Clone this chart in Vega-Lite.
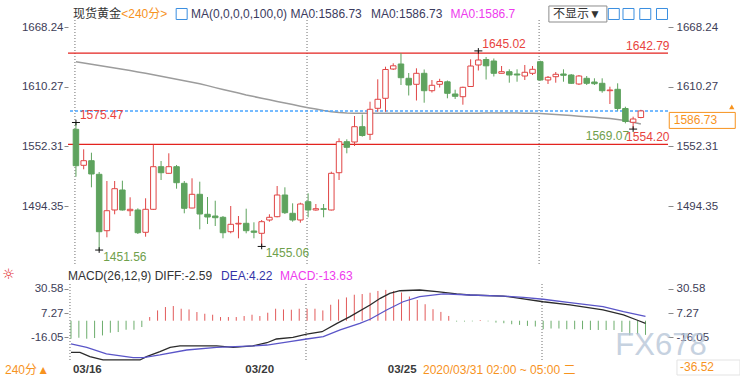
{
"$schema":"https://vega.github.io/schema/vega-lite/v6.json",
"autosize":{"type":"none"},
"padding":{"left":68,"top":20,"right":672,"bottom":362},
"background":"white",
"spacing":18,
"bounds":"flush",
"resolve":{"scale":{"x":"independent","y":"independent"}},
"config":{"view":{"stroke":null},"font":"Liberation Sans"},
"datasets":{
"candles":[
{"i":0,"o":1568.86,"h":1575.47,"l":1522.82,"c":1533.5,"ma":1634.53},
{"i":1,"o":1533.89,"h":1549.43,"l":1530.0,"c":1538.36,"ma":1633.27},
{"i":2,"o":1538.36,"h":1546.13,"l":1512.52,"c":1525.45,"ma":1632.01},
{"i":3,"o":1525.15,"h":1527.39,"l":1451.56,"c":1469.38,"ma":1630.74},
{"i":4,"o":1470.36,"h":1518.64,"l":1463.95,"c":1489.78,"ma":1629.58},
{"i":5,"o":1490.47,"h":1518.64,"l":1486.3,"c":1511.16,"ma":1628.41},
{"i":6,"o":1509.9,"h":1518.93,"l":1489.9,"c":1490.47,"ma":1627.15},
{"i":7,"o":1489.78,"h":1502.81,"l":1484.64,"c":1491.14,"ma":1625.89},
{"i":8,"o":1490.47,"h":1492.12,"l":1467.15,"c":1468.41,"ma":1624.62},
{"i":9,"o":1468.8,"h":1501.84,"l":1464.53,"c":1491.14,"ma":1623.36},
{"i":10,"o":1491.14,"h":1554.0,"l":1490.47,"c":1532.53,"ma":1621.9},
{"i":11,"o":1532.53,"h":1538.07,"l":1519.61,"c":1526.7,"ma":1620.44},
{"i":12,"o":1526.11,"h":1545.54,"l":1525.8,"c":1532.53,"ma":1618.99},
{"i":13,"o":1532.53,"h":1534.19,"l":1511.16,"c":1517.0,"ma":1617.53},
{"i":14,"o":1516.4,"h":1518.64,"l":1487.26,"c":1492.12,"ma":1616.07},
{"i":15,"o":1492.41,"h":1521.26,"l":1492.12,"c":1505.72,"ma":1614.62},
{"i":16,"o":1505.72,"h":1517.96,"l":1471.72,"c":1486.58,"ma":1613.06},
{"i":17,"o":1486.3,"h":1503.1,"l":1476.87,"c":1483.66,"ma":1611.31},
{"i":18,"o":1484.64,"h":1499.5,"l":1474.92,"c":1482.99,"ma":1609.37},
{"i":19,"o":1483.38,"h":1484.64,"l":1462.98,"c":1468.41,"ma":1607.53},
{"i":20,"o":1469.38,"h":1494.35,"l":1467.83,"c":1476.57,"ma":1605.78},
{"i":21,"o":1476.87,"h":1484.64,"l":1462.98,"c":1477.55,"ma":1604.03},
{"i":22,"o":1477.55,"h":1491.73,"l":1467.83,"c":1470.36,"ma":1602.18},
{"i":23,"o":1470.07,"h":1478.52,"l":1462.98,"c":1468.8,"ma":1600.63},
{"i":24,"o":1467.83,"h":1480.75,"l":1455.06,"c":1479.11,"ma":1599.07},
{"i":25,"o":1480.75,"h":1486.3,"l":1479.11,"c":1483.38,"ma":1597.52},
{"i":26,"o":1483.96,"h":1513.78,"l":1483.38,"c":1505.04,"ma":1595.97},
{"i":27,"o":1505.04,"h":1512.52,"l":1486.58,"c":1487.85,"ma":1594.41},
{"i":28,"o":1487.26,"h":1496.97,"l":1479.11,"c":1480.75,"ma":1592.86},
{"i":29,"o":1480.75,"h":1497.56,"l":1478.13,"c":1496.29,"ma":1591.3},
{"i":30,"o":1498.53,"h":1506.69,"l":1483.38,"c":1490.47,"ma":1589.85},
{"i":31,"o":1490.47,"h":1496.29,"l":1489.78,"c":1491.73,"ma":1588.49},
{"i":32,"o":1491.73,"h":1496.29,"l":1483.38,"c":1491.14,"ma":1587.13},
{"i":33,"o":1490.47,"h":1527.67,"l":1490.0,"c":1526.11,"ma":1585.96},
{"i":34,"o":1526.7,"h":1560.12,"l":1519.61,"c":1556.82,"ma":1585.09},
{"i":35,"o":1556.82,"h":1559.15,"l":1545.54,"c":1551.38,"ma":1584.6},
{"i":36,"o":1556.53,"h":1581.78,"l":1552.64,"c":1571.39,"ma":1584.45},
{"i":37,"o":1571.39,"h":1583.24,"l":1561.68,"c":1562.84,"ma":1584.4},
{"i":38,"o":1563.99,"h":1595.67,"l":1558.47,"c":1588.29,"ma":1584.4},
{"i":39,"o":1589.26,"h":1617.43,"l":1585.96,"c":1598.01,"ma":1584.4},
{"i":40,"o":1598.98,"h":1629.68,"l":1585.96,"c":1626.96,"ma":1584.4},
{"i":41,"o":1627.44,"h":1632.98,"l":1626.47,"c":1630.55,"ma":1584.4},
{"i":42,"o":1632.3,"h":1642.69,"l":1611.9,"c":1618.99,"ma":1584.4},
{"i":43,"o":1618.4,"h":1623.56,"l":1601.7,"c":1611.9,"ma":1584.4},
{"i":44,"o":1612.58,"h":1628.12,"l":1596.84,"c":1623.26,"ma":1584.4},
{"i":45,"o":1623.26,"h":1626.96,"l":1594.7,"c":1606.36,"ma":1584.4},
{"i":46,"o":1606.36,"h":1616.75,"l":1604.61,"c":1611.61,"ma":1584.4},
{"i":47,"o":1612.58,"h":1617.92,"l":1609.47,"c":1615.3,"ma":1584.4},
{"i":48,"o":1615.01,"h":1616.27,"l":1598.98,"c":1603.83,"ma":1584.4},
{"i":49,"o":1603.16,"h":1607.33,"l":1598.3,"c":1600.92,"ma":1584.4},
{"i":50,"o":1600.53,"h":1610.25,"l":1592.76,"c":1609.66,"ma":1584.4},
{"i":51,"o":1610.44,"h":1636.86,"l":1609.95,"c":1630.35,"ma":1584.45},
{"i":52,"o":1631.33,"h":1645.02,"l":1625.98,"c":1636.19,"ma":1584.5},
{"i":53,"o":1636.67,"h":1639.1,"l":1617.24,"c":1630.55,"ma":1584.6},
{"i":54,"o":1635.21,"h":1637.64,"l":1620.16,"c":1623.26,"ma":1584.7},
{"i":55,"o":1623.26,"h":1630.35,"l":1623.07,"c":1624.82,"ma":1584.75},
{"i":56,"o":1624.82,"h":1627.15,"l":1614.13,"c":1621.61,"ma":1584.7},
{"i":57,"o":1622.59,"h":1627.15,"l":1615.1,"c":1621.61,"ma":1584.6},
{"i":58,"o":1620.64,"h":1631.33,"l":1616.75,"c":1624.24,"ma":1584.5},
{"i":59,"o":1623.26,"h":1630.35,"l":1621.61,"c":1627.15,"ma":1584.35},
{"i":60,"o":1634.53,"h":1635.5,"l":1616.07,"c":1616.75,"ma":1584.12},
{"i":61,"o":1616.75,"h":1620.64,"l":1612.87,"c":1619.38,"ma":1583.63},
{"i":62,"o":1619.96,"h":1624.53,"l":1614.13,"c":1622.29,"ma":1583.15},
{"i":63,"o":1622.59,"h":1627.15,"l":1615.1,"c":1621.32,"ma":1582.66},
{"i":64,"o":1621.61,"h":1622.59,"l":1612.87,"c":1613.55,"ma":1582.18},
{"i":65,"o":1612.87,"h":1621.61,"l":1611.9,"c":1620.64,"ma":1581.6},
{"i":66,"o":1618.4,"h":1620.64,"l":1611.9,"c":1613.55,"ma":1581.11},
{"i":67,"o":1614.81,"h":1618.4,"l":1611.9,"c":1613.16,"ma":1580.53},
{"i":68,"o":1613.55,"h":1618.4,"l":1604.42,"c":1606.36,"ma":1579.95},
{"i":69,"o":1606.36,"h":1610.25,"l":1593.44,"c":1607.04,"ma":1579.26},
{"i":70,"o":1607.72,"h":1613.55,"l":1586.93,"c":1589.07,"ma":1578.48},
{"i":71,"o":1589.07,"h":1590.82,"l":1574.66,"c":1576.47,"ma":1577.32},
{"i":72,"o":1575.66,"h":1581.1,"l":1569.07,"c":1578.87,"ma":1575.76},
{"i":73,"o":1580.33,"h":1587.8,"l":1579.55,"c":1586.73,"ma":1574.0}
],
"macd":[
{"i":0,"m":-17.34},{"i":1,"m":-16.38},{"i":2,"m":-17.34},{"i":3,"m":-16.67},{"i":4,"m":-14.16},{"i":5,"m":-11.56},{"i":6,"m":-10.89},{"i":7,"m":-8.67},{"i":8,"m":-8.67},{"i":9,"m":-6.07},
{"i":10,"m":3.56},{"i":11,"m":9.92},{"i":12,"m":13.2},{"i":13,"m":14.16},{"i":14,"m":11.56},{"i":15,"m":10.89},{"i":16,"m":8.38},{"i":17,"m":6.74},{"i":18,"m":5.78},{"i":19,"m":3.56},
{"i":20,"m":3.56},{"i":21,"m":3.56},{"i":22,"m":4.53},{"i":23,"m":5.78},{"i":24,"m":4.53},{"i":25,"m":7.71},{"i":26,"m":11.56},{"i":27,"m":10.89},{"i":28,"m":10.6},{"i":29,"m":11.56},
{"i":30,"m":11.56},{"i":31,"m":11.56},{"i":32,"m":9.92},{"i":33,"m":15.41},{"i":34,"m":20.52},{"i":35,"m":22.45},{"i":36,"m":25.05},{"i":37,"m":25.72},{"i":38,"m":26.97},{"i":39,"m":28.7},
{"i":40,"m":29.7},{"i":41,"m":28.7},{"i":42,"m":27.2},{"i":43,"m":23.3},{"i":44,"m":20.0},{"i":45,"m":15.9},{"i":46,"m":11.1},{"i":47,"m":8.5},{"i":48,"m":4.6},{"i":49,"m":-0.8},
{"i":50,"m":-0.8},{"i":51,"m":-0.6},{"i":52,"m":0.7},{"i":53,"m":-0.6},{"i":54,"m":-1.8},{"i":55,"m":-2.4},{"i":56,"m":-3.4},{"i":57,"m":-4.0},{"i":58,"m":-5.0},{"i":59,"m":-5.6},
{"i":60,"m":-8.2},{"i":61,"m":-7.5},{"i":62,"m":-7.5},{"i":63,"m":-8.2},{"i":64,"m":-8.2},{"i":65,"m":-8.2},{"i":66,"m":-8.9},{"i":67,"m":-8.9},{"i":68,"m":-8.9},{"i":69,"m":-8.9},
{"i":70,"m":-10.8},{"i":71,"m":-14.0},{"i":72,"m":-13.0},{"i":73,"m":-13.63}
],
"diff":[
{"i":0,"v":-30.4},{"i":1.14,"v":-30.4},{"i":2.4,"v":-34.6},{"i":4.07,"v":-37.8},{"i":8.77,"v":-37.8},{"i":9.6,"v":-34.6},{"i":11.3,"v":-29.8},{"i":12.6,"v":-25.6},{"i":13.85,"v":-24.3},{"i":18.5,"v":-24.3},{"i":20.6,"v":-25.6},{"i":23.1,"v":-24.3},{"i":24.9,"v":-21.2},{"i":26.1,"v":-17.6},{"i":28.2,"v":-16.0},{"i":29.95,"v":-12.8},{"i":31.9,"v":-10.6},{"i":33.8,"v":-2.5},{"i":35.45,"v":3.9},{"i":38,"v":15.2},{"i":39.3,"v":21.6},{"i":40.5,"v":26.4},{"i":41.8,"v":28.9},{"i":44.3,"v":29.6},{"i":46.5,"v":28.0},{"i":49,"v":25.8},{"i":50.7,"v":24.8},{"i":54.9,"v":23.8},{"i":57.05,"v":21.6},{"i":60,"v":18.3},{"i":63.4,"v":15.2},{"i":67.6,"v":10.4},{"i":70.2,"v":5.6},{"i":71.9,"v":0.7},{"i":73,"v":-2.59}
],
"dea":[
{"i":0,"v":-22.4},{"i":2,"v":-25.6},{"i":4.5,"v":-32.0},{"i":7.9,"v":-35.6},{"i":9.2,"v":-35.6},{"i":11.3,"v":-33.0},{"i":14.7,"v":-28.2},{"i":18.5,"v":-25.6},{"i":23.2,"v":-24.3},{"i":24.9,"v":-23.4},{"i":27.8,"v":-20.2},{"i":29.95,"v":-17.6},{"i":32.06,"v":-15.4},{"i":34.2,"v":-8.9},{"i":36.7,"v":-2.5},{"i":38,"v":1.4},{"i":40.1,"v":10.3},{"i":42.2,"v":18.3},{"i":44.3,"v":23.2},{"i":47.3,"v":25.8},{"i":50.7,"v":24.8},{"i":54.9,"v":23.8},{"i":57.5,"v":22.6},{"i":60,"v":20.7},{"i":63.4,"v":17.4},{"i":67.6,"v":13.5},{"i":70.2,"v":8.7},{"i":73,"v":4.22}
],
"seps":[{"i":-0.13},{"i":29.86},{"i":59.85}]
},
"vconcat":[
{
"width":600,"height":246,
"resolve":{"axis":{"y":"independent"}},
"layer":[
{"data":{"name":"seps"},"mark":{"type":"rule","color":"#6e6e6e","strokeDash":[1,2],"strokeWidth":1},
 "encoding":{"x":{"field":"i","type":"quantitative","scale":{"domain":[-0.381,75.86],"nice":false,"zero":false},"axis":{"labels":false,"ticks":false,"domain":true,"domainColor":"#d9d9d9","grid":false,"title":null}}}},
{"data":{"name":"candles"},"mark":{"type":"line","color":"#9c9c9c","strokeWidth":1.5},
 "encoding":{"x":{"field":"i","type":"quantitative","scale":{"domain":[-0.381,75.86],"nice":false,"zero":false},"axis":null},
  "y":{"field":"ma","type":"quantitative","scale":{"domain":[1436.07,1675.04],"nice":false,"zero":false},
   "axis":{"orient":"left","values":[1668.24,1610.27,1552.31,1494.35],"format":".2f","title":null,"grid":false,"domain":false,"tickSize":4,"tickColor":"#8a8a8a","labelColor":"#3d3d57","labelFontSize":11.5,"labelPadding":1,"labelFont":"Liberation Sans"}}}},
{"data":{"values":[{"p":1642.79},{"p":1554.2}]},"mark":{"type":"rule","color":"#e3231f","strokeWidth":1.2},
 "encoding":{"y":{"field":"p","type":"quantitative","scale":{"domain":[1436.07,1675.04],"nice":false,"zero":false},"axis":null}}},
{"data":{"values":[{"p":1586.73}]},"mark":{"type":"rule","color":"#4aa5ff","strokeDash":[3,2],"strokeWidth":1.5},
 "encoding":{"y":{"field":"p","type":"quantitative","scale":{"domain":[1436.07,1675.04],"nice":false,"zero":false},"axis":null}}},
{"data":{"name":"candles"},"mark":{"type":"rule","strokeWidth":1},
 "encoding":{"x":{"field":"i","type":"quantitative","scale":{"domain":[-0.381,75.86],"nice":false,"zero":false},"axis":null},
  "y":{"field":"l","type":"quantitative","scale":{"domain":[1436.07,1675.04],"nice":false,"zero":false},
   "axis":{"orient":"right","values":[1668.24,1610.27,1552.31,1494.35],"format":".2f","title":null,"grid":false,"domain":false,"tickSize":5,"tickColor":"#8a8a8a","labelColor":"#3d3d57","labelFontSize":11.5,"labelPadding":3,"labelFont":"Liberation Sans"}},
  "y2":{"field":"h"},
  "stroke":{"condition":{"test":"datum.c > datum.o","value":"#e04545"},"value":"#5ea35e"}}},
{"data":{"name":"candles"},"mark":{"type":"bar","width":5.5,"strokeWidth":1},
 "encoding":{"x":{"field":"i","type":"quantitative","scale":{"domain":[-0.381,75.86],"nice":false,"zero":false},"axis":null},
  "y":{"field":"o","type":"quantitative","scale":{"domain":[1436.07,1675.04],"nice":false,"zero":false},"axis":null},
  "y2":{"field":"c"},
  "fill":{"condition":{"test":"datum.c > datum.o","value":"#ffffff"},"value":"#5ea35e"},
  "stroke":{"condition":{"test":"datum.c > datum.o","value":"#e04545"},"value":"#5ea35e"}}},
{"data":{"values":[{"i":0,"p":1575.47},{"i":3,"p":1451.56},{"i":24,"p":1455.06},{"i":52,"p":1645.02},{"i":72,"p":1569.07}]},
 "mark":{"type":"point","shape":"M-1,0H1M0,-0.7V0.7","size":64,"stroke":"#111111","strokeWidth":1,"filled":false,"opacity":1},
 "encoding":{"x":{"field":"i","type":"quantitative","scale":{"domain":[-0.381,75.86],"nice":false,"zero":false},"axis":null},
  "y":{"field":"p","type":"quantitative","scale":{"domain":[1436.07,1675.04],"nice":false,"zero":false},"axis":null}}},
{"data":{"values":[{"i":0,"p":1575.47,"t":"1575.47","r":"red"},{"i":52,"p":1645.02,"t":"1645.02","r":"red"}]},
 "mark":{"type":"text","align":"left","baseline":"middle","fontSize":12,"dx":4,"dy":-7},
 "encoding":{"x":{"field":"i","type":"quantitative","scale":{"domain":[-0.381,75.86],"nice":false,"zero":false},"axis":null},
  "y":{"field":"p","type":"quantitative","scale":{"domain":[1436.07,1675.04],"nice":false,"zero":false},"axis":null},
  "text":{"field":"t"},
  "color":{"field":"r","type":"nominal","legend":null,"scale":{"domain":["dark","orange","navy","magenta","red","green","blue"],"range":["#333333","#f7931e","#3b3b5e","#ee3aee","#e8433e","#6fa04c","#3434a8"]}}}},
{"data":{"values":[{"i":3,"p":1451.56,"t":"1451.56","r":"green"},{"i":24,"p":1455.06,"t":"1455.06","r":"green"}]},
 "mark":{"type":"text","align":"left","baseline":"middle","fontSize":12,"dx":4,"dy":7},
 "encoding":{"x":{"field":"i","type":"quantitative","scale":{"domain":[-0.381,75.86],"nice":false,"zero":false},"axis":null},
  "y":{"field":"p","type":"quantitative","scale":{"domain":[1436.07,1675.04],"nice":false,"zero":false},"axis":null},
  "text":{"field":"t"},
  "color":{"field":"r","type":"nominal","legend":null,"scale":{"domain":["dark","orange","navy","magenta","red","green","blue"],"range":["#333333","#f7931e","#3b3b5e","#ee3aee","#e8433e","#6fa04c","#3434a8"]}}}},
{"data":{"values":[{"i":72,"p":1569.07,"t":"1569.07","r":"green"}]},
 "mark":{"type":"text","align":"right","baseline":"middle","fontSize":12,"dx":-4,"dy":7},
 "encoding":{"x":{"field":"i","type":"quantitative","scale":{"domain":[-0.381,75.86],"nice":false,"zero":false},"axis":null},
  "y":{"field":"p","type":"quantitative","scale":{"domain":[1436.07,1675.04],"nice":false,"zero":false},"axis":null},
  "text":{"field":"t"},
  "color":{"field":"r","type":"nominal","legend":null,"scale":{"domain":["dark","orange","navy","magenta","red","green","blue"],"range":["#333333","#f7931e","#3b3b5e","#ee3aee","#e8433e","#6fa04c","#3434a8"]}}}},
{"data":{"values":[{"i":76.7,"p":1642.79,"t":"1642.79","r":"red"},{"i":76.7,"p":1554.2,"t":"1554.20","r":"red"}]},
 "mark":{"type":"text","align":"right","baseline":"middle","fontSize":12,"dy":-7.5},
 "encoding":{"x":{"field":"i","type":"quantitative","scale":{"domain":[-0.381,75.86],"nice":false,"zero":false},"axis":null},
  "y":{"field":"p","type":"quantitative","scale":{"domain":[1436.07,1675.04],"nice":false,"zero":false},"axis":null},
  "text":{"field":"t"},
  "color":{"field":"r","type":"nominal","legend":null,"scale":{"domain":["dark","orange","navy","magenta","red","green","blue"],"range":["#333333","#f7931e","#3b3b5e","#ee3aee","#e8433e","#6fa04c","#3434a8"]}}}},
{"data":{"values":[{"i":77.25,"p":1586.73}]},
 "mark":{"type":"point","shape":"M-1,-0.2424H1V0.2424H-1Z","size":4356,"xOffset":28.5,"yOffset":9.5,"fill":"#ffffff","filled":true,"stroke":"#f7931e","strokeWidth":1,"opacity":1},
 "encoding":{"x":{"field":"i","type":"quantitative","scale":{"domain":[-0.381,75.86],"nice":false,"zero":false},"axis":null},
  "y":{"field":"p","type":"quantitative","scale":{"domain":[1436.07,1675.04],"nice":false,"zero":false},"axis":null}}},
{"data":{"values":[{"i":77.25,"p":1586.73}]},
 "mark":{"type":"point","shape":"triangle-up","size":28,"xOffset":58,"yOffset":-4,"fill":"#f7931e","filled":true,"opacity":1},
 "encoding":{"x":{"field":"i","type":"quantitative","scale":{"domain":[-0.381,75.86],"nice":false,"zero":false},"axis":null},
  "y":{"field":"p","type":"quantitative","scale":{"domain":[1436.07,1675.04],"nice":false,"zero":false},"axis":null}}},
{"data":{"values":[{"i":77.25,"p":1586.73,"t":"1586.73","r":"orange"}]},
 "mark":{"type":"text","align":"left","baseline":"middle","fontSize":12,"dy":9},
 "encoding":{"x":{"field":"i","type":"quantitative","scale":{"domain":[-0.381,75.86],"nice":false,"zero":false},"axis":null},
  "y":{"field":"p","type":"quantitative","scale":{"domain":[1436.07,1675.04],"nice":false,"zero":false},"axis":null},
  "text":{"field":"t"},
  "color":{"field":"r","type":"nominal","legend":null,"scale":{"domain":["dark","orange","navy","magenta","red","green","blue"],"range":["#333333","#f7931e","#3b3b5e","#ee3aee","#e8433e","#6fa04c","#3434a8"]}}}},
{"data":{"values":[{"i":61.63,"p":1680.87}]},
 "mark":{"type":"point","shape":"M-1,-0.276H1V0.276H-1Z","size":3364,"xOffset":25,"fill":"#ffffff","filled":true,"stroke":"#8c8c8c","strokeWidth":1,"opacity":1},
 "encoding":{"x":{"field":"i","type":"quantitative","scale":{"domain":[-0.381,75.86],"nice":false,"zero":false},"axis":null},
  "y":{"field":"p","type":"quantitative","scale":{"domain":[1436.07,1675.04],"nice":false,"zero":false},"axis":null}}},
{"data":{"values":[{"i":13.66,"p":1680.87},{"i":69.5,"p":1680.87},{"i":71.4,"p":1680.87},{"i":73.57,"p":1680.87},{"i":75.73,"p":1680.87}]},
 "mark":{"type":"point","shape":"square","size":121,"fill":"#ffffff","filled":true,"stroke":"#3a8ee0","strokeWidth":1,"opacity":1},
 "encoding":{"x":{"field":"i","type":"quantitative","scale":{"domain":[-0.381,75.86],"nice":false,"zero":false},"axis":null},
  "y":{"field":"p","type":"quantitative","scale":{"domain":[1436.07,1675.04],"nice":false,"zero":false},"axis":null}}},
{"data":{"values":[
  {"i":-0.38,"p":1680.87,"t":"现货黄金","r":"dark"},
  {"i":5.85,"p":1680.87,"t":"<240分>","r":"orange"},
  {"i":14.87,"p":1680.87,"t":"MA(0,0,0,0,100,0) MA0:1586.73","r":"navy"},
  {"i":38.12,"p":1680.87,"t":"MA0:1586.73","r":"navy"},
  {"i":48.41,"p":1680.87,"t":"MA0:1586.7","r":"magenta"},
  {"i":61.63,"p":1680.87,"t":"不显示▼","r":"dark"}]},
 "mark":{"type":"text","align":"left","baseline":"middle","fontSize":12,"font":"Liberation Sans, Noto Sans CJK SC"},
 "encoding":{"x":{"field":"i","type":"quantitative","scale":{"domain":[-0.381,75.86],"nice":false,"zero":false},"axis":null},
  "y":{"field":"p","type":"quantitative","scale":{"domain":[1436.07,1675.04],"nice":false,"zero":false},"axis":null},
  "text":{"field":"t"},
  "color":{"field":"r","type":"nominal","legend":null,"scale":{"domain":["dark","orange","navy","magenta","red","green","blue"],"range":["#333333","#f7931e","#3b3b5e","#ee3aee","#e8433e","#6fa04c","#3434a8"]}}}}
]
},
{
"width":600,"height":78,
"resolve":{"axis":{"y":"independent"}},
"layer":[
{"data":{"name":"macd"},"mark":{"type":"rule","strokeWidth":1},
 "encoding":{"x":{"field":"i","type":"quantitative","scale":{"domain":[-0.381,75.86],"nice":false,"zero":false},
   "axis":{"orient":"bottom","values":[0,21.9,40,44.56,65.06],"labels":false,"tickSize":19,"tickColor":"#cfcfcf","domainColor":"#d5d5d5","grid":false,"title":null}},
  "y":{"field":"m","type":"quantitative","scale":{"domain":[-39.76,35.39],"nice":false,"zero":false},
   "axis":{"orient":"left","values":[30.58,7.27,-16.05],"labelExpr":"datum.value < 0 ? '-' + format(-datum.value, '.2f') : format(datum.value, '.2f')","title":null,"grid":false,"domain":false,"tickSize":4,"tickColor":"#8a8a8a","labelColor":"#3d3d57","labelFontSize":11.5,"labelPadding":1,"labelFont":"Liberation Sans"}},
  "y2":{"datum":0},
  "stroke":{"condition":{"test":"datum.m > 0","value":"#e25a5a"},"value":"#6cad6c"}}},
{"data":{"name":"seps"},"mark":{"type":"rule","color":"#6e6e6e","strokeDash":[1,2],"strokeWidth":1},
 "encoding":{"x":{"field":"i","type":"quantitative","scale":{"domain":[-0.381,75.86],"nice":false,"zero":false},"axis":null}}},
{"data":{"name":"diff"},"mark":{"type":"line","color":"#2b2b2b","strokeWidth":1.3},
 "encoding":{"x":{"field":"i","type":"quantitative","scale":{"domain":[-0.381,75.86],"nice":false,"zero":false},"axis":null},
  "y":{"field":"v","type":"quantitative","scale":{"domain":[-39.76,35.39],"nice":false,"zero":false},
   "axis":{"orient":"right","values":[30.58,7.27,-16.05],"labelExpr":"datum.value < 0 ? '-' + format(-datum.value, '.2f') : format(datum.value, '.2f')","title":null,"grid":false,"domain":false,"tickSize":5,"tickColor":"#8a8a8a","labelColor":"#3d3d57","labelFontSize":11.5,"labelPadding":3,"labelFont":"Liberation Sans"}}}},
{"data":{"name":"dea"},"mark":{"type":"line","color":"#5a55c8","strokeWidth":1.3},
 "encoding":{"x":{"field":"i","type":"quantitative","scale":{"domain":[-0.381,75.86],"nice":false,"zero":false},"axis":null},
  "y":{"field":"v","type":"quantitative","scale":{"domain":[-39.76,35.39],"nice":false,"zero":false},"axis":null}}},
{"data":{"values":[
  {"i":-0.38,"v":43.1,"t":"MACD(26,12,9) DIFF:-2.59","r":"dark"},
  {"i":19.06,"v":43.1,"t":"DEA:4.22","r":"blue"},
  {"i":26.56,"v":43.1,"t":"MACD:-13.63","r":"magenta"},
  {"i":-8.39,"v":-47.46,"t":"240分","r":"orange"},
  {"i":-4.3,"v":-47.46,"t":"▲","r":"orange"},
  {"i":44.73,"v":-47.46,"t":"2020/03/31 02:00 ~ 05:00 二","r":"orange"}]},
 "mark":{"type":"text","align":"left","baseline":"middle","fontSize":12,"font":"Liberation Sans, Noto Sans CJK SC, DejaVu Sans"},
 "encoding":{"x":{"field":"i","type":"quantitative","scale":{"domain":[-0.381,75.86],"nice":false,"zero":false},"axis":null},
  "y":{"field":"v","type":"quantitative","scale":{"domain":[-39.76,35.39],"nice":false,"zero":false},"axis":null},
  "text":{"field":"t"},
  "color":{"field":"r","type":"nominal","legend":null,"scale":{"domain":["dark","orange","navy","magenta","red","green","blue"],"range":["#333333","#f7931e","#3b3b5e","#ee3aee","#e8433e","#6fa04c","#3434a8"]}}}},
{"data":{"values":[
  {"i":0.25,"v":-47.46,"t":"03/16"},
  {"i":22.15,"v":-47.46,"t":"03/20"},
  {"i":40.25,"v":-47.46,"t":"03/25"}]},
 "mark":{"type":"text","align":"left","baseline":"middle","fontSize":11.5,"fontWeight":"bold","font":"Liberation Sans","color":"#3a3a3a"},
 "encoding":{"x":{"field":"i","type":"quantitative","scale":{"domain":[-0.381,75.86],"nice":false,"zero":false},"axis":null},
  "y":{"field":"v","type":"quantitative","scale":{"domain":[-39.76,35.39],"nice":false,"zero":false},"axis":null},
  "text":{"field":"t"}}},
{"data":{"values":[{"i":-7.94,"v":44.07,"t":"☼"}]},
 "mark":{"type":"text","align":"center","baseline":"middle","fontSize":14,"font":"DejaVu Sans","color":"#e02020"},
 "encoding":{"x":{"field":"i","type":"quantitative","scale":{"domain":[-0.381,75.86],"nice":false,"zero":false},"axis":null},
  "y":{"field":"v","type":"quantitative","scale":{"domain":[-39.76,35.39],"nice":false,"zero":false},"axis":null},
  "text":{"field":"t"}}},
{"data":{"values":[{"i":77.38,"v":-45.05}]},
 "mark":{"type":"point","shape":"M-1,-0.238H1V0.238H-1Z","size":3969,"xOffset":28.5,"fill":"#ffffff","filled":true,"stroke":"#e3e3e3","strokeWidth":1,"opacity":1},
 "encoding":{"x":{"field":"i","type":"quantitative","scale":{"domain":[-0.381,75.86],"nice":false,"zero":false},"axis":null},
  "y":{"field":"v","type":"quantitative","scale":{"domain":[-39.76,35.39],"nice":false,"zero":false},"axis":null}}},
{"data":{"values":[{"i":77.38,"v":-45.05,"t":"-36.52"}]},
 "mark":{"type":"text","align":"left","baseline":"middle","fontSize":12,"color":"#f7931e"},
 "encoding":{"x":{"field":"i","type":"quantitative","scale":{"domain":[-0.381,75.86],"nice":false,"zero":false},"axis":null},
  "y":{"field":"v","type":"quantitative","scale":{"domain":[-39.76,35.39],"nice":false,"zero":false},"axis":null},
  "text":{"field":"t"}}},
{"data":{"values":[{"i":74.97,"v":-24.3,"t":"FX678"}]},
 "mark":{"type":"text","align":"center","baseline":"middle","fontSize":31,"color":"#b4c3d6","opacity":0.75,"font":"Liberation Sans"},
 "encoding":{"x":{"field":"i","type":"quantitative","scale":{"domain":[-0.381,75.86],"nice":false,"zero":false},"axis":null},
  "y":{"field":"v","type":"quantitative","scale":{"domain":[-39.76,35.39],"nice":false,"zero":false},"axis":null},
  "text":{"field":"t"}}}
]
}
]
}
